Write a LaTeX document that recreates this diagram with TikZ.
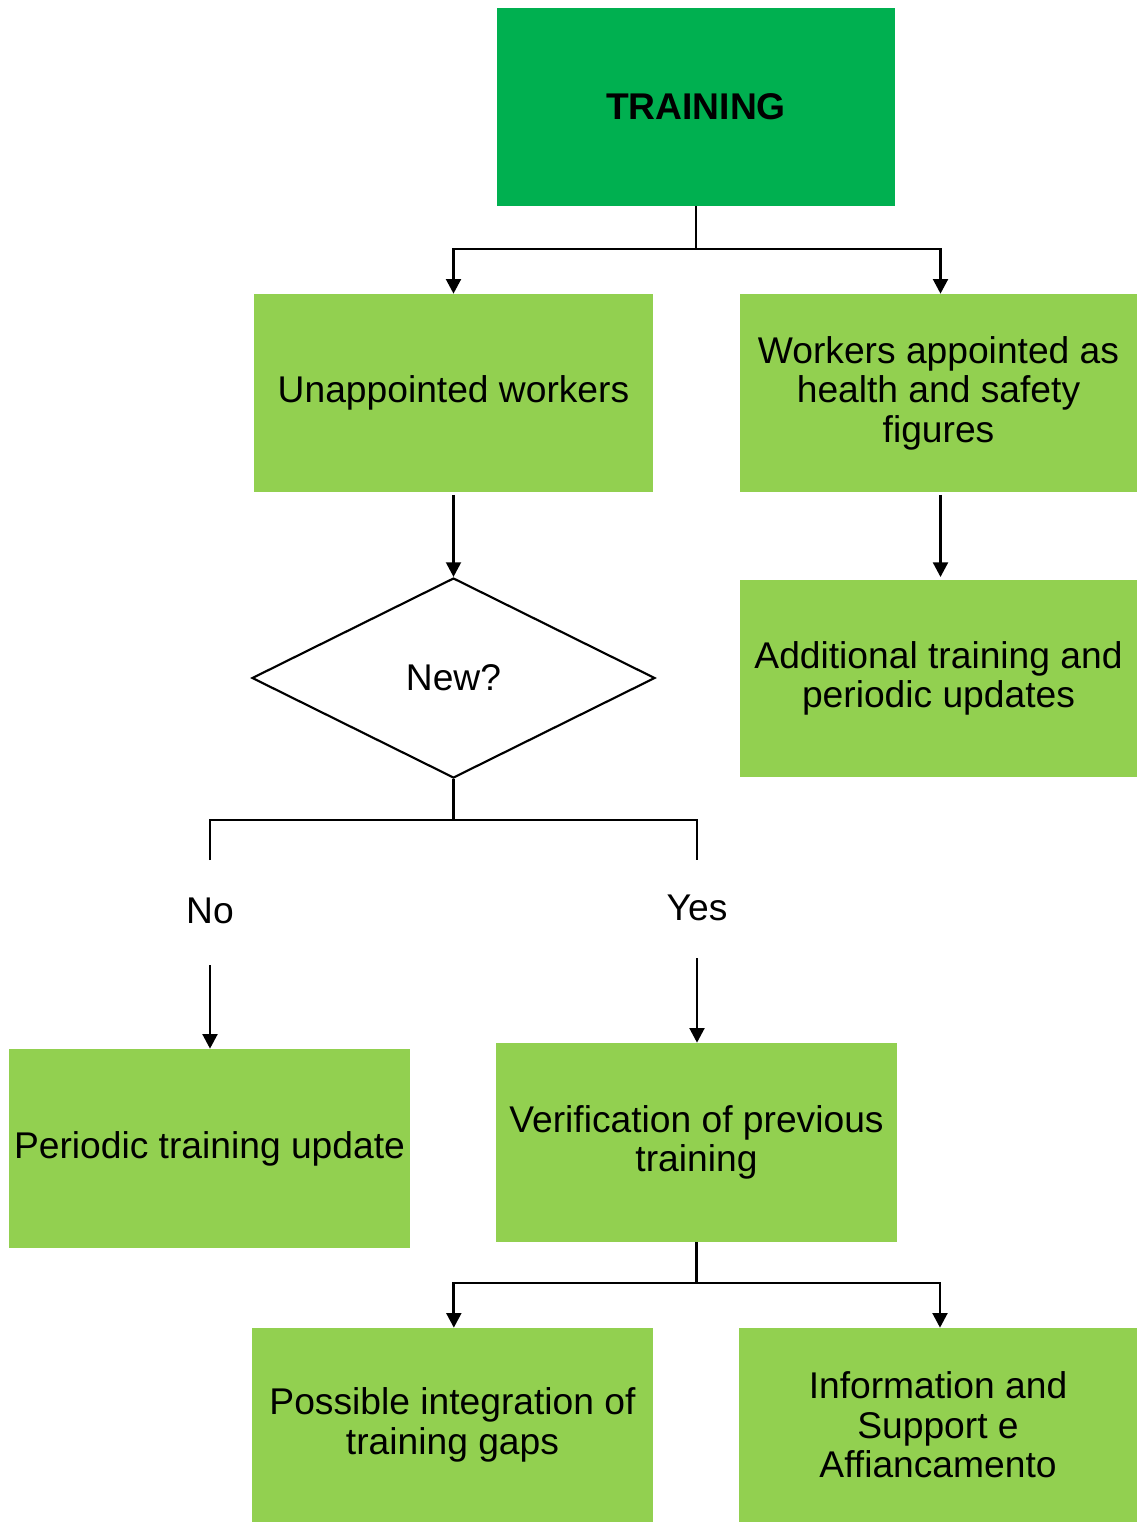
\documentclass[tikz,border=0pt]{standalone}
\usepackage{fontspec}
\setmainfont{Liberation Sans}
\usetikzlibrary{shapes.geometric,arrows.meta}
\definecolor{headgreen}{HTML}{00B050}
\definecolor{boxgreen}{HTML}{92D050}
\tikzset{
  flowbox/.style={rectangle, fill=boxgreen, inner sep=0pt, align=center,
    font=\fontsize{27.9}{29.6}\selectfont},
  headbox/.style={flowbox, fill=headgreen, font=\fontsize{27.9}{29.6}\selectfont\bfseries},
  decision/.style={diamond, draw=black, line width=1.6pt, fill=white, inner sep=0pt,
    minimum width=302.25pt, minimum height=150pt, font=\fontsize{27.9}{29.6}\selectfont},
  answer/.style={inner sep=0pt, font=\fontsize{27.9}{29.6}\selectfont},
  link/.style={draw=black, line width=2.2pt},
  arrowlink/.style={link, -{Triangle[width=11pt,length=11pt]}}
}
\begin{document}
\begin{tikzpicture}[x=0.75pt,y=-0.75pt]
\useasboundingbox (0,0) rectangle (1137,1522);

% boxes
\node[headbox, minimum width=298.5pt, minimum height=148.5pt] (train) at (696,107) {TRAINING};
\node[flowbox, minimum width=299.25pt, minimum height=148.5pt] (unap) at (453.5,393) {Unappointed workers};
\node[flowbox, minimum width=297.75pt, minimum height=148.5pt] (appt) at (938.5,393) {Workers appointed as\\health and safety\\figures};
\node[flowbox, minimum width=297.75pt, minimum height=147.75pt] (addl) at (938.5,678.5) {Additional training and\\periodic updates};
\node[decision] (new) at (453.5,678) {New?};
\node[flowbox, minimum width=300.75pt, minimum height=149.25pt] (peri) at (209.5,1148.5) {Periodic training update};
\node[flowbox, minimum width=300.75pt, minimum height=149.25pt] (veri) at (696.5,1142.5) {Verification of previous\\training};
\node[flowbox, minimum width=300.75pt, minimum height=145.5pt] (gaps) at (452.5,1425) {Possible integration of\\training gaps};
\node[flowbox, minimum width=298.5pt, minimum height=145.5pt] (info) at (938,1425) {Information and\\Support e\\Affiancamento};

% answer labels
\node[answer] (no) at (210,911) {No};
\node[answer] (yes) at (697,908) {Yes};

% connector anchors
\coordinate (trainsplit) at (696,249);
\coordinate (newsplit) at (453.5,820);
\coordinate (noend) at (210,860);
\coordinate (yesend) at (697,860);
\coordinate (nostart) at (210,965);
\coordinate (yesstart) at (697,958);
\coordinate (verisplit) at (696.5,1283);

% connectors
\draw[link] (train.south) -- (trainsplit);
\draw[arrowlink] (trainsplit) -| ([yshift=0pt]unap.north);
\draw[arrowlink] (trainsplit) -| ([xshift=1.5pt,yshift=0pt]appt.north);
\draw[arrowlink] ([yshift=-2pt]unap.south) -- (new.north);
\draw[arrowlink] ([xshift=1.5pt,yshift=-2pt]appt.south) -- ([xshift=1.5pt,yshift=2pt]addl.north);
\draw[link] (new.south) -- (newsplit);
\draw[link] (noend) |- (newsplit) -| (yesend);
\draw[arrowlink] (nostart) -- (nostart |- peri.north);
\draw[arrowlink] (yesstart) -- (yesstart |- veri.north);
\draw[link] (veri.south) -- (verisplit);
\draw[arrowlink] (verisplit) -| ([xshift=1pt,yshift=0pt]gaps.north);
\draw[arrowlink] (verisplit) -| ([xshift=1.5pt,yshift=0pt]info.north);
\end{tikzpicture}
\end{document}
